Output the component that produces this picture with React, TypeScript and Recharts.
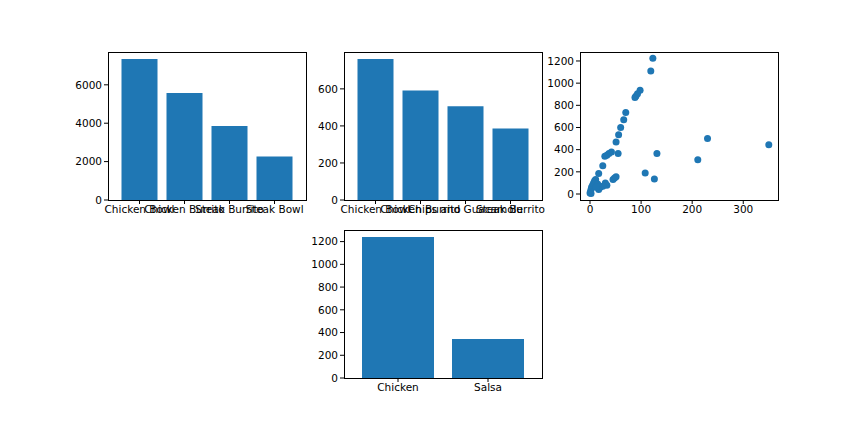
import React from "react";
import {
  BarChart, Bar, ScatterChart, Scatter, XAxis, YAxis,
} from "recharts";

const BLUE = "#1f77b4";

const topItems = ["Chicken Bowl", "Chicken Burrito", "Steak Burrito", "Steak Bowl"];
const topRevenue = [7342.73, 5575.82, 3851.43, 2260.19];

const qtyItems = ["Chicken Bowl", "Chicken Burrito", "Chips and Guacamole", "Steak Burrito"];
const qtyValues = [761, 591, 506, 386];

const choiceItems = ["Chicken", "Salsa"];
const choiceValues = [1240, 343];

const scatterX = [123, 119, 98, 93, 90, 88, 70, 66, 60, 56, 51, 55, 42, 37, 33, 29, 25, 17, 11, 9, 7, 5, 3, 2, 1, 0, 2, 30, 33, 25, 20, 17, 15, 12, 45, 48, 51, 108, 126, 131, 211, 230, 350];
const scatterY = [1225, 1110, 935, 905, 885, 870, 735, 670, 600, 535, 470, 365, 380, 365, 350, 340, 255, 185, 130, 120, 100, 80, 60, 40, 20, 10, 5, 100, 80, 70, 60, 40, 90, 60, 130, 145, 155, 190, 135, 365, 310, 500, 445];

const toRows = (names: string[], vals: number[]) => names.map((name, i) => ({ name, value: vals[i] }));
const scatterData = scatterX.map((x, i) => ({ x, y: scatterY[i] }));

const tickStyle = { fill: "#000", fontSize: 10.5, fontFamily: "DejaVu Sans" };
const YW = 45;
const TOP = 5;
const RIGHT = 14;
const XH = 25;

function Frame({ left, top, w, h }: any) {
  return (
    <div style={{ position: "absolute", left, top, width: w - 1, height: h - 1, border: "1px solid #000", pointerEvents: "none" }} />
  );
}

function BarPanel({ left, top, w, h, data, max, ticks }: any) {
  return (
    <>
      <div style={{ position: "absolute", left: left - YW, top: top - TOP }}>
        <BarChart width={w + YW + RIGHT} height={h + TOP + XH} data={data}
          margin={{ top: TOP, right: RIGHT, left: 0, bottom: 0 }} barCategoryGap="10%">
          <XAxis dataKey="name" interval={0} tick={tickStyle} tickSize={4} axisLine={false}
            tickLine={{ stroke: "#000" }} height={XH} padding={{ left: 9, right: 9 }} />
          <YAxis domain={[0, max]} ticks={ticks} tick={tickStyle} tickSize={4} axisLine={false}
            tickLine={{ stroke: "#000" }} width={YW} allowDataOverflow />
          <Bar dataKey="value" fill={BLUE} isAnimationActive={false} />
        </BarChart>
      </div>
      <Frame left={left} top={top} w={w} h={h} />
    </>
  );
}

export default function App() {
  return (
    <div style={{ position: "absolute", left: 0, top: 0, width: 864, height: 432, background: "#fff" }}>
      <BarPanel left={108} top={52} w={198} h={148} data={toRows(topItems, topRevenue)} max={7710} ticks={[0, 2000, 4000, 6000]} />
      <BarPanel left={344} top={52} w={198} h={148} data={toRows(qtyItems, qtyValues)} max={799} ticks={[0, 200, 400, 600]} />
      <BarPanel left={344} top={230} w={198} h={148} data={toRows(choiceItems, choiceValues)} max={1302} ticks={[0, 200, 400, 600, 800, 1000, 1200]} />
      <div style={{ position: "absolute", left: 580 - YW, top: 52 - TOP }}>
        <ScatterChart width={198 + YW + RIGHT} height={148 + TOP + XH} margin={{ top: TOP, right: RIGHT, left: 0, bottom: 0 }}>
          <XAxis type="number" dataKey="x" domain={[-19.6, 368]} ticks={[0, 100, 200, 300]} tick={tickStyle}
            tickSize={4} axisLine={false} tickLine={{ stroke: "#000" }} height={XH} allowDataOverflow />
          <YAxis type="number" dataKey="y" domain={[-54, 1281]} ticks={[0, 200, 400, 600, 800, 1000, 1200]}
            tick={tickStyle} tickSize={4} axisLine={false} tickLine={{ stroke: "#000" }} width={YW} allowDataOverflow />
          <Scatter data={scatterData} fill={BLUE} isAnimationActive={false}
            shape={(p: any) => <circle cx={p.cx} cy={p.cy} r={3.5} fill={BLUE} />} />
        </ScatterChart>
      </div>
      <Frame left={580} top={52} w={198} h={148} />
    </div>
  );
}
